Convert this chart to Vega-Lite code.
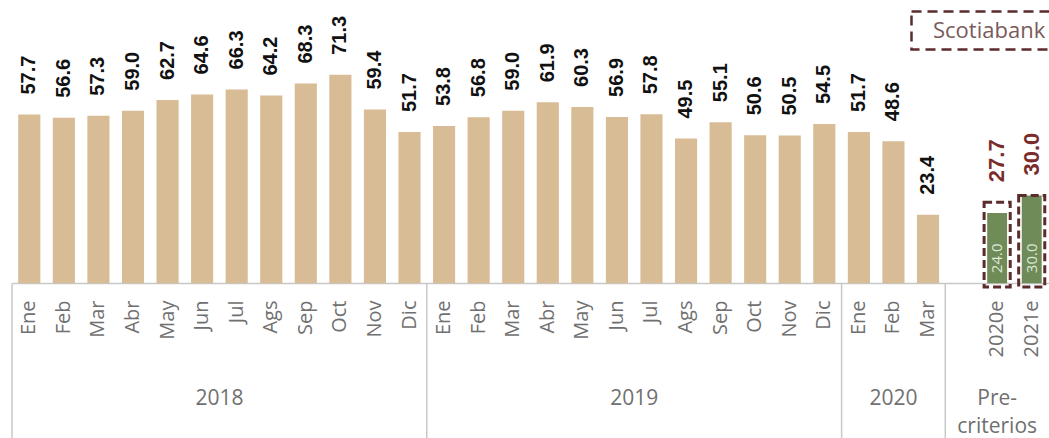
{
  "$schema": "https://vega.github.io/schema/vega-lite/v6.json",
  "width": 1049,
  "height": 438,
  "padding": 0,
  "autosize": {"type": "none"},
  "background": "white",
  "config": {"view": {"stroke": null}},
  "data": {"values": [
    {"key": "00|Ene", "group": "2018", "i": 0, "value": 57.7},
    {"key": "01|Feb", "group": "2018", "i": 1, "value": 56.6},
    {"key": "02|Mar", "group": "2018", "i": 2, "value": 57.3},
    {"key": "03|Abr", "group": "2018", "i": 3, "value": 59.0},
    {"key": "04|May", "group": "2018", "i": 4, "value": 62.7},
    {"key": "05|Jun", "group": "2018", "i": 5, "value": 64.6},
    {"key": "06|Jul", "group": "2018", "i": 6, "value": 66.3},
    {"key": "07|Ags", "group": "2018", "i": 7, "value": 64.2},
    {"key": "08|Sep", "group": "2018", "i": 8, "value": 68.3},
    {"key": "09|Oct", "group": "2018", "i": 9, "value": 71.3},
    {"key": "10|Nov", "group": "2018", "i": 10, "value": 59.4},
    {"key": "11|Dic", "group": "2018", "i": 11, "value": 51.7},
    {"key": "12|Ene", "group": "2019", "i": 12, "value": 53.8},
    {"key": "13|Feb", "group": "2019", "i": 13, "value": 56.8},
    {"key": "14|Mar", "group": "2019", "i": 14, "value": 59.0},
    {"key": "15|Abr", "group": "2019", "i": 15, "value": 61.9},
    {"key": "16|May", "group": "2019", "i": 16, "value": 60.3},
    {"key": "17|Jun", "group": "2019", "i": 17, "value": 56.9},
    {"key": "18|Jul", "group": "2019", "i": 18, "value": 57.8},
    {"key": "19|Ags", "group": "2019", "i": 19, "value": 49.5},
    {"key": "20|Sep", "group": "2019", "i": 20, "value": 55.1},
    {"key": "21|Oct", "group": "2019", "i": 21, "value": 50.6},
    {"key": "22|Nov", "group": "2019", "i": 22, "value": 50.5},
    {"key": "23|Dic", "group": "2019", "i": 23, "value": 54.5},
    {"key": "24|Ene", "group": "2020", "i": 24, "value": 51.7},
    {"key": "25|Feb", "group": "2020", "i": 25, "value": 48.6},
    {"key": "26|Mar", "group": "2020", "i": 26, "value": 23.4},
    {"key": "27|", "group": "Pre-\ncriterios", "i": 27},
    {"key": "28|2020e", "group": "Pre-\ncriterios", "i": 28, "est": 24.0, "scotia": 27.7},
    {"key": "29|2021e", "group": "Pre-\ncriterios", "i": 29, "est": 30.0, "scotia": 30.0}
  ]},
  "layer": [
    {
      "encoding": {
        "x": {
          "field": "key", "type": "ordinal", "sort": "ascending",
          "scale": {"range": [12, 1049], "paddingInner": 0.36, "paddingOuter": 0.18},
          "axis": {
            "title": null, "ticks": false, "tickSize": 0, "offset": -155,
            "domainColor": "#c8c8c8", "domainWidth": 1.5,
            "labelAngle": 270, "labelAlign": "right", "labelBaseline": "middle",
            "labelPadding": 17, "labelFont": "Open Sans", "labelFontSize": 20,
            "labelColor": "#707070", "labelOverlap": false, "labelBound": false,
            "labelExpr": "substring(datum.label, 3)"
          }
        }
      },
      "layer": [
        {
          "transform": [{"filter": "isValid(datum.value)"}],
          "mark": {"type": "bar", "color": "#D8BC95"},
          "encoding": {
            "y": {"field": "value", "type": "quantitative",
                  "scale": {"domain": [-53, 96.9], "nice": false, "zero": false}, "axis": null}
          }
        },
        {
          "transform": [{"filter": "isValid(datum.value)"}],
          "mark": {"type": "text", "angle": 270, "align": "left", "baseline": "middle",
                   "dx": 20, "font": "Liberation Sans",
                   "fontWeight": "bold", "fontSize": 20, "color": "#111111"},
          "encoding": {
            "y": {"field": "value", "type": "quantitative"},
            "text": {"field": "value", "type": "quantitative", "format": ".1f"}
          }
        },
        {
          "transform": [{"filter": "isValid(datum.est)"}],
          "mark": {"type": "bar", "color": "#6E8B58", "width": {"band": 0.9}},
          "encoding": {
            "y": {"field": "est", "type": "quantitative"}
          }
        },
        {
          "transform": [{"filter": "isValid(datum.scotia)"}],
          "mark": {"type": "bar", "fill": "transparent", "strokeWidth": 3, "strokeDash": [8, 4],
                   "width": {"band": 1.18}},
          "encoding": {
            "y": {"field": "scotia", "type": "quantitative"},
            "y2": {"datum": -1.3},
            "stroke": {
              "datum": "Scotiabank", "type": "nominal",
              "scale": {"domain": ["Scotiabank"], "range": ["#5C2B2B"]},
              "legend": {
                "title": null, "orient": "none", "legendX": 910, "legendY": 10,
                "padding": 0, "symbolType": "M-1,-1H10V1H-1Z", "symbolSize": 1444,
                "symbolStrokeColor": "#6B2C2C", "symbolFillColor": "transparent",
                "symbolStrokeWidth": 2.5, "symbolDash": [10, 6],
                "labelOffset": -18, "labelFont": "Open Sans", "labelFontSize": 22,
                "labelColor": "#7A5A5A"
              }
            }
          }
        },
        {
          "transform": [{"filter": "isValid(datum.est)"}],
          "mark": {"type": "text", "angle": 270, "align": "left", "baseline": "middle",
                   "dx": 10, "font": "Open Sans", "fontSize": 15, "color": "#DDE8D5"},
          "encoding": {
            "y": {"datum": 0},
            "text": {"field": "est", "type": "quantitative", "format": ".1f"}
          }
        },
        {
          "transform": [{"filter": "isValid(datum.scotia)"}],
          "mark": {"type": "text", "angle": 270, "align": "left", "baseline": "middle",
                   "dx": 20, "font": "Liberation Sans",
                   "fontWeight": "bold", "fontSize": 22, "color": "#7A2B2B"},
          "encoding": {
            "y": {"field": "scotia", "type": "quantitative"},
            "text": {"field": "scotia", "type": "quantitative", "format": ".1f"}
          }
        },
        {
          "transform": [
            {"window": [{"op": "row_number", "as": "rn"}], "groupby": ["group"],
             "sort": [{"field": "i"}]},
            {"filter": "datum.rn == 1"}
          ],
          "mark": {"type": "rule", "color": "#c8c8c8", "strokeWidth": 1.5, "xOffset": -17.3},
          "encoding": {
            "y": {"datum": 0},
            "y2": {"datum": -53}
          }
        }
      ]
    },
    {
      "mark": {"type": "text", "font": "Open Sans", "fontSize": 21, "color": "#707070",
               "align": "center", "baseline": "alphabetic", "lineBreak": "\n", "lineHeight": 28},
      "encoding": {
        "x": {"aggregate": "mean", "field": "i", "type": "quantitative",
              "scale": {"domain": [-0.5, 29.5], "range": [12, 1049], "nice": false, "zero": false},
              "axis": null},
        "y": {"datum": -41.8},
        "text": {"field": "group", "type": "nominal"}
      }
    }
  ],
  "resolve": {"scale": {"x": "independent"}}
}
